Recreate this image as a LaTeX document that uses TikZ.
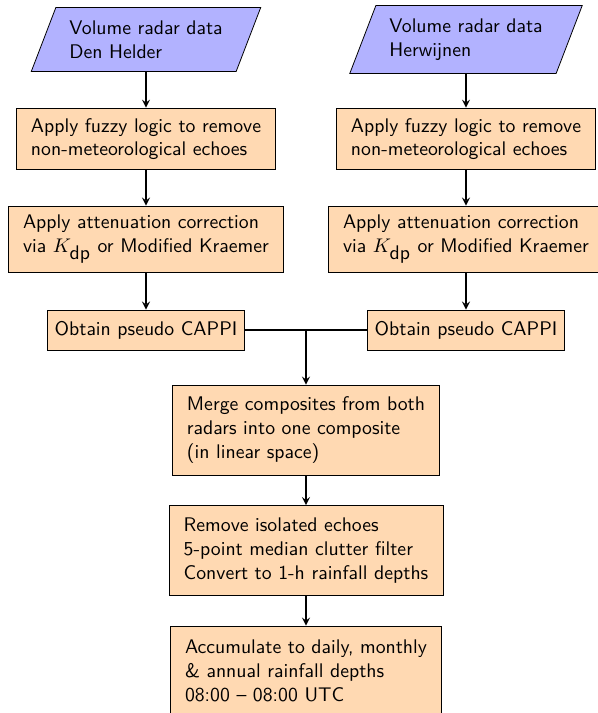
\documentclass[tikz,border=0pt]{standalone}
\usetikzlibrary{shapes.geometric,arrows}
\begin{document}
\begin{tikzpicture}[x=0.0178cm,y=-0.0178cm,font=\sffamily,>=stealth,
  inbox/.style={trapezium,trapezium left angle=69,trapezium right angle=111,draw,fill=blue!30,align=left,inner ysep=6.7pt,inner xsep=6.8pt},
  stepbox/.style={rectangle,draw,fill=orange!30,align=left,inner xsep=7.5pt},
  flow/.style={->,thick}]
\useasboundingbox (0,0) rectangle (597,713);
% two radars
\node[inbox] (dhin) at (146,39.5) {Volume radar data\\Den Helder};
\node[inbox] (hwin) at (466,39.5) {Volume radar data\\Herwijnen};
\node[stepbox,minimum height=1.1cm] (dhfuzzy) at (146,139) {Apply fuzzy logic to remove\\non-meteorological echoes};
\node[stepbox,minimum height=1.1cm] (hwfuzzy) at (466,139) {Apply fuzzy logic to remove\\non-meteorological echoes};
\node[stepbox,minimum height=1.175cm] (dhatt) at (146,239) {Apply attenuation correction\\via $K_{\mbox{dp}}$ or Modified Kraemer};
\node[stepbox,minimum height=1.175cm] (hwatt) at (466,239) {Apply attenuation correction\\via $K_{\mbox{dp}}$ or Modified Kraemer};
\node[stepbox,minimum height=0.712cm,inner xsep=3.5pt] (dhcappi) at (146,330) {Obtain pseudo CAPPI};
\node[stepbox,minimum height=0.712cm,inner xsep=3.5pt] (hwcappi) at (466,330) {Obtain pseudo CAPPI};
% composite
\coordinate (join) at (306,330);
\node[stepbox,minimum height=1.6cm] (merge) at (306,430) {Merge composites from both\\radars into one composite\\(in linear space)};
\node[stepbox,minimum height=1.6cm] (clean) at (306,550.5) {Remove isolated echoes\\5-point median clutter filter\\Convert to 1-h rainfall depths};
\node[stepbox,minimum height=1.6cm] (accum) at (306,671) {Accumulate to daily, monthly\\\& annual rainfall depths\\08:00 -- 08:00 UTC};
\foreach \r in {dh,hw} {
  \draw[flow] (\r in) -- (\r fuzzy);
  \draw[flow] (\r fuzzy) -- (\r att);
  \draw[flow] (\r att) -- (\r cappi);
}
\draw[thick] (dhcappi) -- (join) -- (hwcappi);
\draw[flow] (join) -- (merge);
\draw[flow] (merge) -- (clean);
\draw[flow] (clean) -- (accum);
\end{tikzpicture}
\end{document}
